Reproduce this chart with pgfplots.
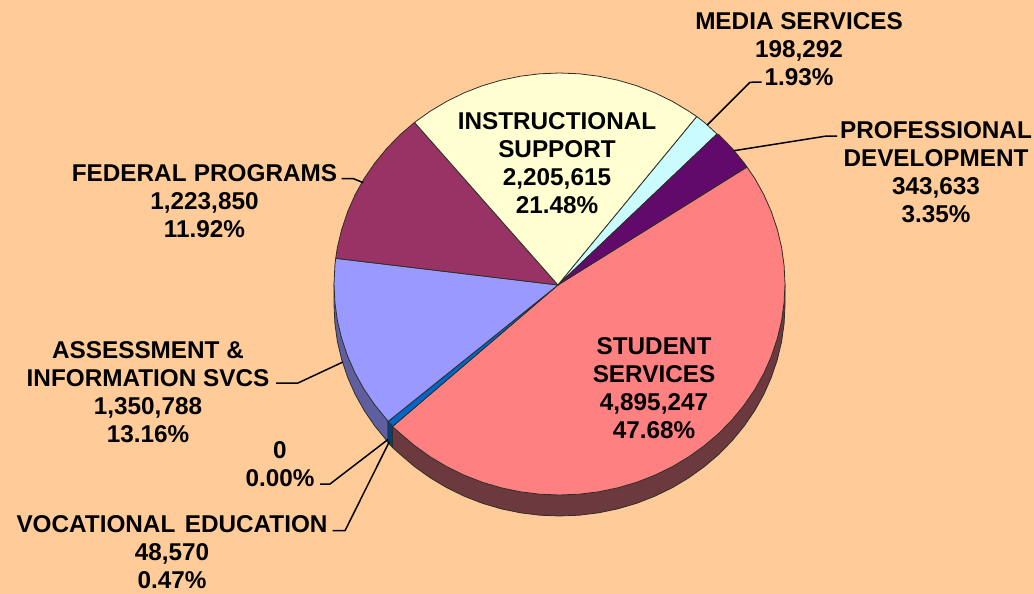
\documentclass[border=0pt]{standalone}
\usepackage{pgfplots}
\pgfplotsset{compat=1.18}
\usepackage{fontspec}
\setmainfont{Liberation Sans}
\definecolor{bg}{HTML}{FFCC99}
\definecolor{stud}{HTML}{FF8080}
\definecolor{studside}{HTML}{6C3A3E}
\definecolor{asse}{HTML}{9999FF}
\definecolor{asseside}{HTML}{5F5F9F}
\definecolor{fede}{HTML}{993366}
\definecolor{inst}{HTML}{FFFFD2}
\definecolor{medi}{HTML}{CAFBFF}
\definecolor{prof}{HTML}{620A6C}
\definecolor{voca}{HTML}{0066CC}
\definecolor{vocaside}{HTML}{003F80}
\definecolor{edge}{HTML}{2E2E28}
\tikzset{
  lab/.style={font=\fontsize{24.3}{28}\selectfont\bfseries,align=center,text=black,inner sep=0pt},
  wedge/.style={draw=edge,line width=0.8pt,line join=round},
  leader/.style={draw=black,line width=1.5pt,line join=round},
}
\begin{document}
\begin{tikzpicture}
\begin{axis}[
  x=1pt,y=1pt,y dir=reverse,
  xmin=0,xmax=1034,ymin=0,ymax=594,
  hide axis,clip=false,
]
% background
\addplot[fill=bg,draw=none] coordinates {(0,0)(1034,0)(1034,594)(0,594)} -- cycle;
% sides
\addplot[fill=studside,wedge] coordinates {(785,284)(785,305)(784.1,323.4)(781.6,341.6)(777.3,359.6)(771.4,377.2)(763.9,394.2)(754.8,410.5)(744.2,426)(732.2,440.6)(719,454.2)(704.4,466.6)(688.8,477.8)(672.3,487.7)(654.8,496.2)(636.6,503.3)(617.9,508.8)(598.6,512.8)(579.2,515.2)(559.5,516)(539.8,515.2)(520.4,512.8)(501.1,508.8)(482.4,503.3)(464.2,496.2)(446.8,487.7)(430.2,477.8)(414.5,466.6)(400,454.2)(392.5,447.5)(392.5,426.5)} -- cycle;
\addplot[fill=asseside,wedge] coordinates {(334,284)(334,305)(334.9,323.4)(337.4,341.6)(341.7,359.6)(347.6,377.2)(355.1,394.2)(364.2,410.5)(374.8,426)(386.8,440.6)(388,442.5)(388,421.5)} -- cycle;
\addplot[fill=vocaside,wedge] coordinates {(388,421.5)(388,442.5)(392.5,447.5)(392.5,426.5)} -- cycle;
% top wedges
\addplot[fill=stud,wedge] coordinates {(558,285)(747,167)(754.8,178.5)(763.9,194.8)(771.4,211.8)(777.3,229.4)(781.6,247.4)(784.1,265.6)(785,284)(784.1,302.4)(781.6,320.6)(777.3,338.6)(771.4,356.2)(763.9,373.2)(754.8,389.5)(744.2,405)(732.2,419.6)(719,433.2)(704.4,445.6)(688.8,456.8)(672.3,466.7)(654.8,475.2)(636.6,482.3)(617.9,487.8)(598.6,491.8)(579.2,494.2)(559.5,495)(539.8,494.2)(520.4,491.8)(501.1,487.8)(482.4,482.3)(464.2,475.2)(446.8,466.7)(430.2,456.8)(414.5,445.6)(400,433.2)(392.5,426.5)} -- cycle;
\addplot[fill=voca,wedge] coordinates {(558,285)(392.5,426.5)(388,421.5)} -- cycle;
\addplot[fill=asse,wedge] coordinates {(558,285)(388,421.5)(386.8,419.6)(374.8,405)(364.2,389.5)(355.1,373.2)(347.6,356.2)(341.7,338.6)(337.4,320.6)(334.9,302.4)(334,284)(334.9,265.6)(335.7,258.3)} -- cycle;
\addplot[fill=fede,wedge] coordinates {(558,285)(335.7,258.3)(337.4,247.4)(341.7,229.4)(347.6,211.8)(355.1,194.8)(364.2,178.5)(374.8,163)(386.8,148.4)(400,134.8)(414.5,122.4)} -- cycle;
\addplot[fill=inst,wedge] coordinates {(558,285)(414.5,122.4)(430.2,111.2)(446.8,101.3)(464.2,92.8)(482.4,85.7)(501.1,80.2)(520.4,76.2)(539.8,73.8)(559.5,73)(579.2,73.8)(598.6,76.2)(617.9,80.2)(636.6,85.7)(654.8,92.8)(672.3,101.3)(688.8,111.2)(696.8,116.6)} -- cycle;
\addplot[fill=medi,wedge] coordinates {(558,285)(696.8,116.6)(704.4,122.4)(717,134)} -- cycle;
\addplot[fill=prof,wedge] coordinates {(558,285)(717,134)(719,134.8)(732.2,148.4)(744.2,163)(747,167)} -- cycle;
% leader lines
\addplot[leader] coordinates {(707.3,125)(750,82.3)(761.7,82)};
\addplot[leader] coordinates {(734,150.7)(826.7,136)(837,136)};
\addplot[leader] coordinates {(363.3,182.7)(353,178.5)(341.7,178.5)};
\addplot[leader] coordinates {(343,362)(298,383)(276,383)};
\addplot[leader] coordinates {(388,439.5)(330,484)(320,484)};
\addplot[leader] coordinates {(389.3,441.7)(345,530.7)(332.7,530.7)};
% labels
\node[lab] at (axis cs:799,49) {MEDIA SERVICES\\198,292\\1.93\%};
\node[lab] at (axis cs:936,172.5) {PROFESSIONAL\\DEVELOPMENT\\343,633\\3.35\%};
\node[lab] at (axis cs:557,163) {INSTRUCTIONAL\\SUPPORT\\2,205,615\\21.48\%};
\node[lab] at (axis cs:204.5,201) {FEDERAL\ \hspace{0.6pt}PROGRAMS\\1,223,850\\11.92\%};
\node[lab] at (axis cs:148,392) {ASSESSMENT \&\\INFORMATION SVCS\\1,350,788\\13.16\%};
\node[lab] at (axis cs:280,464) {0\\0.00\%};
\node[lab] at (axis cs:172,552) {VOCATIONAL\ \hspace{2.7pt}EDUCATION\\48,570\\0.47\%};
\node[lab] at (axis cs:654,388) {STUDENT\\SERVICES\\4,895,247\\47.68\%};
\end{axis}
\end{tikzpicture}
\end{document}
